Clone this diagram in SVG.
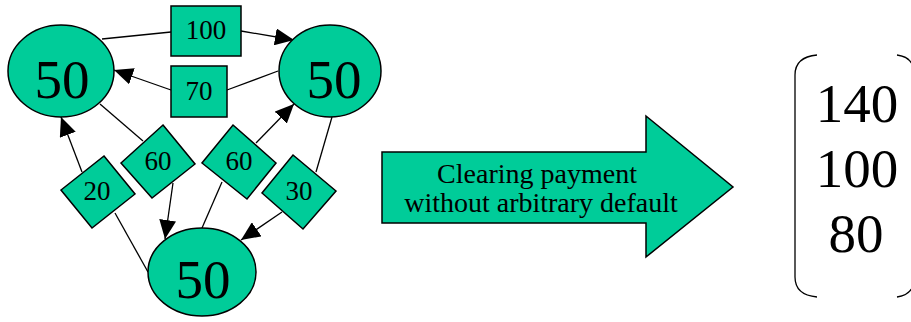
<svg xmlns="http://www.w3.org/2000/svg" width="911" height="322" viewBox="0 0 911 322">
<style>
.shape{fill:#00CC99;stroke:#000;stroke-width:1.5}
.edge{stroke:#000;stroke-width:1.3;fill:none}
.t{font-family:"Liberation Serif","Times New Roman",serif;fill:#000;text-anchor:middle}
.big{font-size:55px}
.lbl{font-size:27px}
.arr{font-size:28px}
</style>
<defs>
<marker id="ah" viewBox="0 0 19 17" refX="19" refY="8.5" markerWidth="19" markerHeight="17" markerUnits="userSpaceOnUse" orient="auto">
<path d="M0,0 L19,8.5 L0,17 z" fill="#000"/>
</marker>
</defs>
<rect width="911" height="322" fill="#fff"/>
<g id="connectors">
<line class="edge" x1="102" y1="39" x2="171" y2="32"/>
<line class="edge" x1="241" y1="31" x2="294" y2="40" marker-end="url(#ah)"/>
<line class="edge" x1="278" y1="71" x2="227" y2="90"/>
<line class="edge" x1="171" y1="90" x2="114" y2="70" marker-end="url(#ah)"/>
<line class="edge" x1="100" y1="104" x2="143" y2="141"/>
<line class="edge" x1="173" y1="183" x2="165" y2="239" marker-end="url(#ah)"/>
<line class="edge" x1="202" y1="228" x2="222" y2="182"/>
<line class="edge" x1="256" y1="143" x2="294" y2="104" marker-end="url(#ah)"/>
<line class="edge" x1="148" y1="272" x2="115" y2="213"/>
<line class="edge" x1="82" y1="172" x2="61" y2="117" marker-end="url(#ah)"/>
<line class="edge" x1="332" y1="117" x2="316" y2="172"/>
<line class="edge" x1="282" y1="212" x2="241" y2="240" marker-end="url(#ah)"/>
</g>
<g id="nodeA">
<ellipse class="shape" cx="61" cy="71" rx="53" ry="46"/>
<text class="t big" x="62" y="98">50</text>
</g>
<g id="nodeB">
<ellipse class="shape" cx="330" cy="71" rx="51" ry="46"/>
<text class="t big" x="334" y="98">50</text>
</g>
<g id="nodeC">
<ellipse class="shape" cx="202" cy="272" rx="54" ry="44"/>
<text class="t big" x="203" y="298">50</text>
</g>
<g id="label100">
<rect class="shape" x="171" y="6" width="70" height="50"/>
<text class="t lbl" x="206" y="39">100</text>
</g>
<g id="label70">
<rect class="shape" x="171" y="66" width="56" height="51"/>
<text class="t lbl" x="199" y="100">70</text>
</g>
<g id="label60a">
<polygon class="shape" points="163,125 195,164 152,198 121,163"/>
<text class="t lbl" x="158" y="170">60</text>
</g>
<g id="label60b">
<polygon class="shape" points="233,125 276,163 247,199 202,163"/>
<text class="t lbl" x="239" y="170">60</text>
</g>
<g id="label20">
<polygon class="shape" points="104,156 135,194 92,228 61,190"/>
<text class="t lbl" x="97" y="200">20</text>
</g>
<g id="label30">
<polygon class="shape" points="293,155 336,191 303,229 262,193"/>
<text class="t lbl" x="299" y="200">30</text>
</g>
<g id="bigArrow">
<polygon class="shape" points="382,152 646,152 646,116 733,187 646,257 646,223 382,223"/>
<text class="t arr" x="537" y="183">Clearing payment</text>
<text class="t arr" x="541" y="212">without arbitrary default</text>
</g>
<g id="matrix">
<path class="edge" d="M817,55 Q795,57 795,75 L795,277 Q795,295 817,297"/>
<path class="edge" d="M897,55 Q912,57 914,70 M897,297 Q912,295 914,282"/>
<text class="t big" x="857" y="122">140</text>
<text class="t big" x="857" y="187">100</text>
<text class="t big" x="856" y="252">80</text>
</g>
</svg>
